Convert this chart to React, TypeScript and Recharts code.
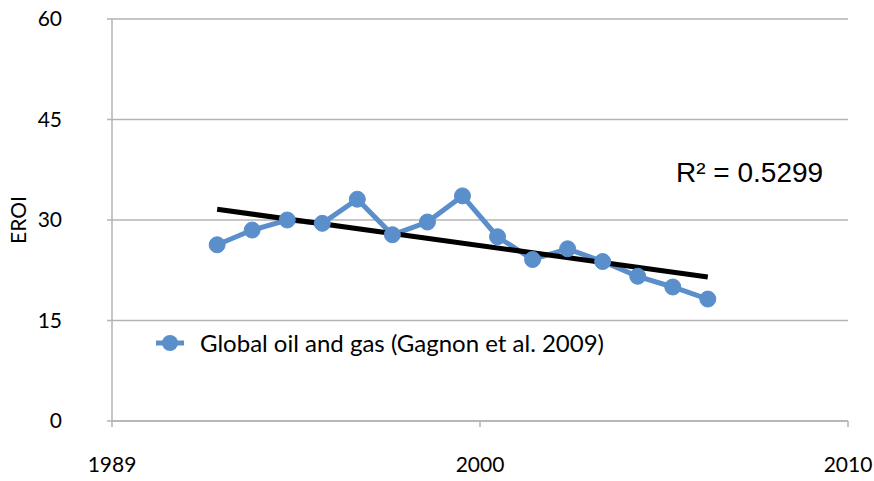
import { ComposedChart, Line, XAxis, YAxis, CartesianGrid, Legend } from 'recharts';

const years = [1992, 1993, 1994, 1995, 1996, 1997, 1998, 1999, 2000, 2001, 2002, 2003, 2004, 2005, 2006];
const eroi = [26.3, 28.5, 30.0, 29.5, 33.1, 27.8, 29.7, 33.6, 27.5, 24.1, 25.7, 23.8, 21.6, 20.0, 18.2];
// linear trend, read at its two ends
const trendYears = [1992, 2006];
const trendValues = [31.6, 21.5];

const xTicks = [1989, 1999.5, 2010];
const yTicks = [0, 15, 30, 45, 60];

const BLUE = '#5b8fcb';
const GRID = '#b3b3b3';
const TICK_FONT = 'Lato, "Open Sans", sans-serif';

const data = years.map((year, i) => {
  const t = trendYears.indexOf(year);
  return { year, eroi: eroi[i], trend: t >= 0 ? trendValues[t] : null };
});

function LegendContent() {
  return (
    <div style={{ display: 'flex', alignItems: 'center', fontFamily: TICK_FONT, fontSize: 24, color: '#000', whiteSpace: 'nowrap' }}>
      <svg width={30} height={20} style={{ marginRight: 15 }}>
        <line x1={1} y1={10} x2={29} y2={10} stroke={BLUE} strokeWidth={5} />
        <circle cx={15} cy={10} r={8} fill={BLUE} />
      </svg>
      <span>Global oil and gas (Gagnon et al. 2009)</span>
    </div>
  );
}

export default function App() {
  return (
    <div style={{ position: 'absolute', left: 0, top: 0, width: 874, height: 481, background: '#fff' }}>
      <ComposedChart width={874} height={481} data={data} margin={{ top: 19, right: 26, bottom: 0, left: 0 }}>
        <CartesianGrid horizontal vertical={false} stroke={GRID} strokeWidth={1.5} />
        <XAxis
          dataKey="year"
          type="number"
          domain={[1989, 2010]}
          ticks={xTicks}
          tickFormatter={(v: number) => String(Math.round(v))}
          interval={0}
          height={60}
          stroke={GRID}
          strokeWidth={1.5}
          tickSize={6}
          tickMargin={30}
          tick={{ fill: '#000', fontSize: 21, fontFamily: TICK_FONT }}
        />
        <YAxis
          domain={[0, 60]}
          ticks={yTicks}
          width={112}
          stroke={GRID}
          strokeWidth={1.5}
          tickSize={5}
          tickMargin={45}
          tick={{ fill: '#000', fontSize: 21, fontFamily: TICK_FONT }}
          label={{ value: 'EROI', angle: -90, position: 'insideLeft', offset: 19, fill: '#000', fontSize: 21, fontFamily: TICK_FONT, style: { textAnchor: 'middle' } }}
        />
        <Legend
          layout="vertical"
          verticalAlign="middle"
          align="center"
          wrapperStyle={{ left: 155, top: 328, width: 'auto' }}
          content={() => <LegendContent />}
        />
        <Line
          type="linear"
          dataKey="eroi"
          name="Global oil and gas (Gagnon et al. 2009)"
          stroke={BLUE}
          strokeWidth={5}
          dot={{ r: 8, fill: BLUE, stroke: BLUE, strokeWidth: 1 }}
          activeDot={false}
          isAnimationActive={false}
        />
        <Line
          type="linear"
          dataKey="trend"
          stroke="#000"
          strokeWidth={5}
          dot={false}
          activeDot={false}
          connectNulls
          legendType="none"
          isAnimationActive={false}
        />
      </ComposedChart>
      <div
        style={{
          position: 'absolute',
          left: 676,
          top: 159,
          fontFamily: '"Liberation Sans", Arial, sans-serif',
          fontSize: 28,
          lineHeight: 1,
          color: '#000',
          whiteSpace: 'nowrap',
        }}
      >
        R² = 0.5299
      </div>
    </div>
  );
}
